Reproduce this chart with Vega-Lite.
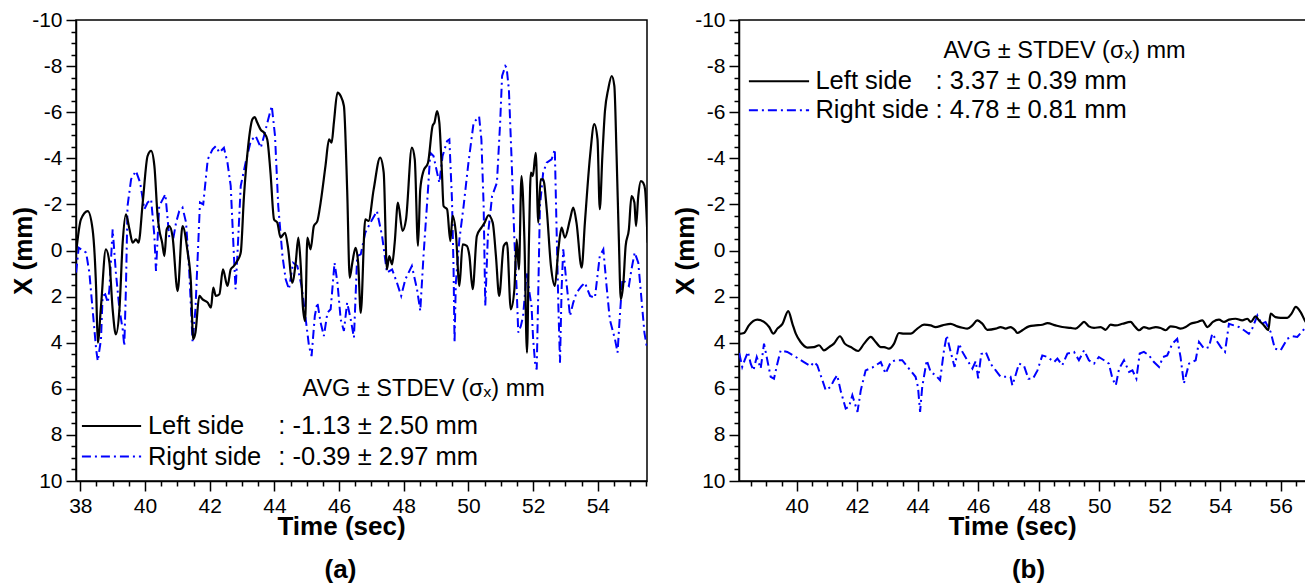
{
  "$schema": "https://vega.github.io/schema/vega-lite/v6.json",
  "padding": {"left": 9, "top": 8, "right": 0, "bottom": 0},
  "background": "white",
  "bounds": "flush",
  "spacing": 92,
  "config": {
    "view": {"stroke": "black", "strokeWidth": 1.5},
    "font": "Liberation Sans",
    "axis": {
      "labelFont": "Liberation Sans", "labelFontSize": 21, "labelColor": "black",
      "titleFont": "Liberation Sans", "titleFontSize": 26, "titleFontWeight": "bold", "titleColor": "black",
      "domainColor": "black", "domainWidth": 1.5, "tickColor": "black", "tickWidth": 1.5,
      "grid": false, "labelPadding": 4, "labelOverlap": false, "labelFlush": false
    },
    "text": {"font": "Liberation Sans", "color": "black", "align": "left", "baseline": "middle"}
  },
  "datasets": {
    "aLeft": [
      {"t":37.87,"v":0.1},{"t":38.02,"v":-1.35},{"t":38.23,"v":-1.71},{"t":38.38,"v":-0.92},{"t":38.49,"v":1.68},{"t":38.54,"v":4.0},{"t":38.64,"v":2.41},{"t":38.79,"v":-0.05},{"t":38.9,"v":0.53},{"t":39.0,"v":2.55},{"t":39.1,"v":3.64},{"t":39.21,"v":2.55},{"t":39.31,"v":-0.34},{"t":39.41,"v":-1.57},{"t":39.52,"v":-0.92},{"t":39.62,"v":-0.34},{"t":39.72,"v":-0.48},{"t":39.8,"v":-0.34},{"t":39.93,"v":-2.08},{"t":40.08,"v":-4.1},{"t":40.19,"v":-4.32},{"t":40.29,"v":-3.67},{"t":40.39,"v":-1.5},{"t":40.44,"v":-0.92},{"t":40.53,"v":-0.34},{"t":40.6,"v":0.24},{"t":40.67,"v":-0.92},{"t":40.75,"v":-1.06},{"t":40.85,"v":-0.63},{"t":41.01,"v":1.76},{"t":41.16,"v":-1.06},{"t":41.32,"v":0.09},{"t":41.42,"v":1.4},{"t":41.49,"v":3.85},{"t":41.56,"v":3.56},{"t":41.68,"v":1.97},{"t":41.78,"v":2.12},{"t":41.94,"v":2.26},{"t":42.04,"v":2.48},{"t":42.11,"v":1.61},{"t":42.19,"v":1.97},{"t":42.3,"v":1.9},{"t":42.41,"v":0.82},{"t":42.55,"v":1.54},{"t":42.65,"v":0.82},{"t":42.75,"v":0.67},{"t":42.85,"v":0.46},{"t":42.96,"v":0.09},{"t":43.06,"v":-2.36},{"t":43.19,"v":-4.53},{"t":43.32,"v":-5.69},{"t":43.39,"v":-5.79},{"t":43.47,"v":-5.55},{"t":43.58,"v":-5.23},{"t":43.68,"v":-5.11},{"t":43.78,"v":-4.82},{"t":43.88,"v":-3.38},{"t":43.99,"v":-1.35},{"t":44.09,"v":-1.21},{"t":44.19,"v":-0.56},{"t":44.33,"v":-0.77},{"t":44.43,"v":-0.05},{"t":44.55,"v":1.4},{"t":44.66,"v":0.53},{"t":44.74,"v":-0.56},{"t":44.81,"v":0.53},{"t":44.88,"v":2.41},{"t":44.95,"v":3.06},{"t":45.02,"v":-0.56},{"t":45.12,"v":-0.05},{"t":45.22,"v":-1.06},{"t":45.33,"v":-1.28},{"t":45.43,"v":-2.08},{"t":45.58,"v":-3.67},{"t":45.69,"v":-4.82},{"t":45.77,"v":-4.68},{"t":45.84,"v":-5.55},{"t":45.95,"v":-6.85},{"t":46.05,"v":-6.7},{"t":46.15,"v":-6.27},{"t":46.25,"v":-2.65},{"t":46.33,"v":1.18},{"t":46.41,"v":0.53},{"t":46.51,"v":-0.12},{"t":46.59,"v":0.53},{"t":46.67,"v":2.7},{"t":46.81,"v":-1.35},{"t":46.91,"v":-1.28},{"t":47.07,"v":-2.65},{"t":47.27,"v":-4.03},{"t":47.38,"v":-3.38},{"t":47.48,"v":0.82},{"t":47.55,"v":0.24},{"t":47.64,"v":0.6},{"t":47.72,"v":-0.34},{"t":47.82,"v":-2.08},{"t":47.96,"v":-0.85},{"t":48.07,"v":-1.35},{"t":48.25,"v":-4.46},{"t":48.34,"v":-3.95},{"t":48.44,"v":-0.2},{"t":48.51,"v":-2.65},{"t":48.61,"v":-3.45},{"t":48.75,"v":-3.81},{"t":48.89,"v":-5.4},{"t":48.95,"v":-5.55},{"t":49.03,"v":-6.05},{"t":49.1,"v":-5.55},{"t":49.18,"v":-3.38},{"t":49.23,"v":-1.93},{"t":49.34,"v":-1.79},{"t":49.44,"v":-0.41},{"t":49.51,"v":-1.5},{"t":49.61,"v":-0.77},{"t":49.72,"v":1.54},{"t":49.82,"v":-0.27},{"t":49.95,"v":-0.2},{"t":50.03,"v":0.24},{"t":50.13,"v":1.68},{"t":50.26,"v":-0.63},{"t":50.4,"v":-0.99},{"t":50.5,"v":-1.21},{"t":50.62,"v":-1.53},{"t":50.75,"v":-1.21},{"t":50.85,"v":0.24},{"t":50.95,"v":1.97},{"t":51.09,"v":-0.2},{"t":51.19,"v":-0.34},{"t":51.31,"v":2.55},{"t":51.42,"v":1.68},{"t":51.49,"v":-0.48},{"t":51.56,"v":0.82},{"t":51.64,"v":-3.23},{"t":51.73,"v":-0.48},{"t":51.81,"v":4.43},{"t":51.87,"v":-0.34},{"t":51.93,"v":-3.38},{"t":51.99,"v":-3.23},{"t":52.08,"v":-4.24},{"t":52.16,"v":-1.21},{"t":52.23,"v":-3.09},{"t":52.31,"v":-3.09},{"t":52.42,"v":-1.79},{"t":52.55,"v":0.67},{"t":52.67,"v":1.54},{"t":52.78,"v":-0.05},{"t":52.88,"v":-0.99},{"t":52.98,"v":-0.56},{"t":53.14,"v":-1.35},{"t":53.24,"v":-1.86},{"t":53.34,"v":-1.21},{"t":53.5,"v":0.74},{"t":53.6,"v":-1.21},{"t":53.76,"v":-4.1},{"t":53.89,"v":-5.48},{"t":53.99,"v":-4.82},{"t":54.06,"v":-1.79},{"t":54.14,"v":-4.1},{"t":54.22,"v":-6.05},{"t":54.32,"v":-6.99},{"t":54.43,"v":-7.57},{"t":54.51,"v":-7.14},{"t":54.58,"v":-4.1},{"t":54.65,"v":-0.48},{"t":54.71,"v":2.12},{"t":54.79,"v":1.4},{"t":54.86,"v":-0.2},{"t":54.96,"v":-0.92},{"t":55.04,"v":-2.36},{"t":55.13,"v":-2.08},{"t":55.18,"v":-1.06},{"t":55.25,"v":-2.36},{"t":55.33,"v":-3.01},{"t":55.4,"v":-2.94},{"t":55.46,"v":-2.65},{"t":55.54,"v":-0.34}
    ],
    "aRight": [
      {"t":37.87,"v":0.96},{"t":37.95,"v":-0.12},{"t":38.18,"v":0.09},{"t":38.28,"v":0.96},{"t":38.38,"v":2.55},{"t":38.49,"v":4.29},{"t":38.54,"v":4.79},{"t":38.64,"v":3.85},{"t":38.69,"v":1.97},{"t":38.77,"v":1.9},{"t":38.85,"v":2.26},{"t":38.9,"v":1.68},{"t":39.0,"v":-0.92},{"t":39.1,"v":0.96},{"t":39.21,"v":2.55},{"t":39.31,"v":3.42},{"t":39.36,"v":4.14},{"t":39.41,"v":1.68},{"t":39.46,"v":-1.93},{"t":39.57,"v":-3.09},{"t":39.72,"v":-3.45},{"t":39.85,"v":-2.94},{"t":39.98,"v":-1.79},{"t":40.08,"v":-2.08},{"t":40.19,"v":-2.22},{"t":40.29,"v":-0.63},{"t":40.34,"v":0.89},{"t":40.44,"v":-1.93},{"t":40.63,"v":-2.44},{"t":40.7,"v":-1.35},{"t":40.75,"v":-0.56},{"t":40.88,"v":-0.56},{"t":40.96,"v":-1.21},{"t":41.06,"v":-1.71},{"t":41.16,"v":-1.86},{"t":41.27,"v":-1.21},{"t":41.37,"v":0.96},{"t":41.47,"v":3.93},{"t":41.56,"v":2.55},{"t":41.63,"v":0.24},{"t":41.7,"v":-2.08},{"t":41.8,"v":-2.0},{"t":41.94,"v":-3.95},{"t":42.09,"v":-4.39},{"t":42.19,"v":-4.53},{"t":42.3,"v":-4.25},{"t":42.44,"v":-4.46},{"t":42.55,"v":-3.81},{"t":42.65,"v":-2.8},{"t":42.75,"v":0.24},{"t":42.8,"v":1.68},{"t":42.85,"v":0.38},{"t":42.96,"v":-2.8},{"t":43.11,"v":-3.81},{"t":43.27,"v":-4.75},{"t":43.42,"v":-4.97},{"t":43.58,"v":-4.46},{"t":43.68,"v":-4.97},{"t":43.81,"v":-5.69},{"t":43.92,"v":-6.27},{"t":44.02,"v":-4.97},{"t":44.12,"v":-1.93},{"t":44.25,"v":0.24},{"t":44.35,"v":1.25},{"t":44.45,"v":1.68},{"t":44.58,"v":0.53},{"t":44.71,"v":0.67},{"t":44.84,"v":1.54},{"t":44.97,"v":2.99},{"t":45.07,"v":4.14},{"t":45.15,"v":4.58},{"t":45.25,"v":2.84},{"t":45.33,"v":2.26},{"t":45.43,"v":3.13},{"t":45.53,"v":3.71},{"t":45.64,"v":2.7},{"t":45.74,"v":2.55},{"t":45.86,"v":0.53},{"t":45.95,"v":1.4},{"t":46.05,"v":2.99},{"t":46.15,"v":3.49},{"t":46.25,"v":2.26},{"t":46.36,"v":2.99},{"t":46.46,"v":3.78},{"t":46.56,"v":0.24},{"t":46.67,"v":0.17},{"t":46.81,"v":-0.77},{"t":46.97,"v":-1.21},{"t":47.17,"v":-1.71},{"t":47.33,"v":-0.63},{"t":47.48,"v":0.96},{"t":47.64,"v":0.82},{"t":47.79,"v":1.4},{"t":47.92,"v":1.97},{"t":48.05,"v":1.25},{"t":48.25,"v":0.67},{"t":48.41,"v":1.68},{"t":48.51,"v":2.62},{"t":48.61,"v":0.24},{"t":48.75,"v":-2.65},{"t":48.82,"v":-4.24},{"t":48.92,"v":-4.1},{"t":49.03,"v":-3.38},{"t":49.1,"v":-2.94},{"t":49.2,"v":-4.1},{"t":49.34,"v":-4.75},{"t":49.41,"v":-4.82},{"t":49.49,"v":-2.22},{"t":49.54,"v":0.82},{"t":49.57,"v":4.0},{"t":49.61,"v":1.4},{"t":49.72,"v":-0.48},{"t":49.85,"v":-1.93},{"t":50.0,"v":-3.81},{"t":50.16,"v":-5.55},{"t":50.33,"v":-5.81},{"t":50.4,"v":-4.82},{"t":50.47,"v":-1.93},{"t":50.52,"v":2.41},{"t":50.6,"v":-0.63},{"t":50.73,"v":-2.36},{"t":50.88,"v":-2.94},{"t":50.98,"v":-5.55},{"t":51.04,"v":-7.57},{"t":51.14,"v":-8.0},{"t":51.18,"v":-7.93},{"t":51.25,"v":-6.99},{"t":51.33,"v":-4.1},{"t":51.42,"v":-0.48},{"t":51.49,"v":1.68},{"t":51.54,"v":3.56},{"t":51.62,"v":3.27},{"t":51.69,"v":2.84},{"t":51.8,"v":0.96},{"t":51.87,"v":1.68},{"t":51.95,"v":2.41},{"t":52.0,"v":3.85},{"t":52.06,"v":4.87},{"t":52.11,"v":5.16},{"t":52.16,"v":1.68},{"t":52.21,"v":-1.93},{"t":52.31,"v":-3.38},{"t":52.42,"v":-3.81},{"t":52.57,"v":-3.95},{"t":52.67,"v":-4.39},{"t":52.72,"v":-1.21},{"t":52.78,"v":2.41},{"t":52.83,"v":4.87},{"t":52.88,"v":1.68},{"t":52.93,"v":-0.05},{"t":53.03,"v":1.4},{"t":53.14,"v":2.84},{"t":53.24,"v":2.26},{"t":53.34,"v":1.83},{"t":53.5,"v":1.54},{"t":53.6,"v":1.4},{"t":53.76,"v":1.97},{"t":53.91,"v":2.05},{"t":54.06,"v":0.24},{"t":54.17,"v":-0.05},{"t":54.27,"v":1.54},{"t":54.37,"v":2.99},{"t":54.53,"v":3.85},{"t":54.61,"v":4.43},{"t":54.68,"v":2.84},{"t":54.76,"v":1.25},{"t":54.86,"v":1.4},{"t":54.96,"v":1.54},{"t":55.04,"v":0.82},{"t":55.14,"v":0.09},{"t":55.25,"v":0.53},{"t":55.35,"v":2.12},{"t":55.44,"v":3.56},{"t":55.51,"v":4.14}
    ],
    "bLeft": [
      {"t":38.1,"v":3.62},{"t":38.26,"v":3.58},{"t":38.42,"v":3.25},{"t":38.7,"v":3.0},{"t":38.92,"v":3.1},{"t":39.09,"v":3.32},{"t":39.23,"v":3.61},{"t":39.36,"v":3.39},{"t":39.53,"v":3.18},{"t":39.72,"v":2.63},{"t":39.86,"v":3.18},{"t":39.97,"v":3.61},{"t":40.13,"v":3.97},{"t":40.35,"v":4.21},{"t":40.57,"v":4.19},{"t":40.74,"v":4.11},{"t":40.9,"v":4.33},{"t":41.07,"v":4.19},{"t":41.23,"v":4.04},{"t":41.43,"v":3.72},{"t":41.59,"v":4.04},{"t":41.79,"v":4.19},{"t":42.03,"v":4.36},{"t":42.23,"v":4.04},{"t":42.45,"v":3.75},{"t":42.61,"v":3.97},{"t":42.78,"v":4.19},{"t":42.89,"v":4.19},{"t":43.05,"v":4.26},{"t":43.22,"v":4.04},{"t":43.38,"v":3.58},{"t":43.55,"v":3.61},{"t":43.77,"v":3.61},{"t":43.99,"v":3.39},{"t":44.21,"v":3.22},{"t":44.43,"v":3.25},{"t":44.59,"v":3.32},{"t":44.82,"v":3.25},{"t":45.09,"v":3.18},{"t":45.31,"v":3.29},{"t":45.48,"v":3.35},{"t":45.64,"v":3.39},{"t":45.81,"v":3.25},{"t":45.97,"v":3.03},{"t":46.14,"v":3.18},{"t":46.3,"v":3.44},{"t":46.58,"v":3.39},{"t":46.74,"v":3.32},{"t":46.91,"v":3.39},{"t":47.07,"v":3.32},{"t":47.22,"v":3.46},{"t":47.29,"v":3.58},{"t":47.46,"v":3.46},{"t":47.68,"v":3.29},{"t":47.9,"v":3.25},{"t":48.12,"v":3.22},{"t":48.29,"v":3.15},{"t":48.56,"v":3.25},{"t":48.78,"v":3.32},{"t":49.06,"v":3.36},{"t":49.22,"v":3.39},{"t":49.39,"v":3.22},{"t":49.5,"v":3.1},{"t":49.66,"v":3.29},{"t":49.83,"v":3.36},{"t":50.05,"v":3.32},{"t":50.21,"v":3.44},{"t":50.38,"v":3.22},{"t":50.55,"v":3.25},{"t":50.77,"v":3.18},{"t":51.04,"v":3.1},{"t":51.15,"v":3.25},{"t":51.32,"v":3.46},{"t":51.48,"v":3.32},{"t":51.65,"v":3.39},{"t":51.87,"v":3.32},{"t":52.03,"v":3.36},{"t":52.2,"v":3.46},{"t":52.36,"v":3.29},{"t":52.53,"v":3.32},{"t":52.69,"v":3.39},{"t":52.86,"v":3.32},{"t":53.02,"v":3.18},{"t":53.25,"v":3.1},{"t":53.41,"v":3.03},{"t":53.58,"v":3.32},{"t":53.76,"v":3.1},{"t":53.96,"v":3.0},{"t":54.13,"v":3.1},{"t":54.29,"v":3.0},{"t":54.51,"v":2.96},{"t":54.73,"v":3.03},{"t":54.9,"v":2.96},{"t":55.01,"v":3.1},{"t":55.17,"v":2.86},{"t":55.28,"v":3.03},{"t":55.45,"v":3.25},{"t":55.59,"v":3.46},{"t":55.67,"v":2.74},{"t":55.83,"v":2.89},{"t":56.0,"v":2.92},{"t":56.22,"v":2.92},{"t":56.36,"v":2.74},{"t":56.5,"v":2.45},{"t":56.66,"v":2.67},{"t":56.83,"v":3.1},{"t":56.97,"v":3.2}
    ],
    "bRight": [
      {"t":38.1,"v":4.45},{"t":38.2,"v":5.05},{"t":38.28,"v":4.76},{"t":38.39,"v":4.4},{"t":38.48,"v":4.91},{"t":38.57,"v":5.2},{"t":38.68,"v":4.62},{"t":38.81,"v":5.12},{"t":38.92,"v":4.04},{"t":39.03,"v":4.76},{"t":39.14,"v":5.48},{"t":39.25,"v":5.56},{"t":39.36,"v":4.91},{"t":39.47,"v":4.33},{"t":39.69,"v":4.4},{"t":39.97,"v":4.62},{"t":40.24,"v":4.84},{"t":40.46,"v":5.02},{"t":40.57,"v":4.84},{"t":40.68,"v":4.98},{"t":40.85,"v":5.63},{"t":40.96,"v":6.06},{"t":41.12,"v":5.92},{"t":41.23,"v":5.63},{"t":41.34,"v":5.41},{"t":41.45,"v":6.06},{"t":41.62,"v":6.86},{"t":41.73,"v":6.78},{"t":41.84,"v":6.28},{"t":42.01,"v":7.0},{"t":42.12,"v":6.06},{"t":42.28,"v":5.2},{"t":42.5,"v":5.08},{"t":42.78,"v":4.84},{"t":42.94,"v":5.34},{"t":43.11,"v":4.84},{"t":43.27,"v":4.76},{"t":43.49,"v":4.76},{"t":43.71,"v":5.12},{"t":43.93,"v":5.48},{"t":44.01,"v":5.92},{"t":44.08,"v":7.0},{"t":44.15,"v":5.92},{"t":44.3,"v":4.76},{"t":44.43,"v":5.27},{"t":44.59,"v":5.41},{"t":44.74,"v":5.63},{"t":44.87,"v":4.33},{"t":44.96,"v":3.68},{"t":45.09,"v":4.4},{"t":45.22,"v":5.05},{"t":45.37,"v":4.04},{"t":45.48,"v":4.4},{"t":45.64,"v":4.76},{"t":45.81,"v":5.12},{"t":45.92,"v":4.8},{"t":46.0,"v":5.55},{"t":46.1,"v":4.5},{"t":46.25,"v":4.4},{"t":46.41,"v":4.91},{"t":46.58,"v":5.2},{"t":46.74,"v":5.48},{"t":46.91,"v":5.48},{"t":47.07,"v":5.48},{"t":47.13,"v":5.85},{"t":47.22,"v":5.48},{"t":47.35,"v":4.91},{"t":47.51,"v":4.98},{"t":47.66,"v":5.56},{"t":47.81,"v":5.56},{"t":47.96,"v":5.2},{"t":48.12,"v":4.55},{"t":48.29,"v":4.62},{"t":48.51,"v":4.84},{"t":48.62,"v":4.69},{"t":48.78,"v":4.98},{"t":48.95,"v":4.47},{"t":49.17,"v":4.4},{"t":49.33,"v":4.76},{"t":49.5,"v":4.33},{"t":49.66,"v":4.76},{"t":49.83,"v":4.91},{"t":49.99,"v":4.62},{"t":50.16,"v":4.76},{"t":50.32,"v":4.91},{"t":50.44,"v":5.56},{"t":50.55,"v":5.85},{"t":50.66,"v":5.12},{"t":50.82,"v":4.76},{"t":50.99,"v":5.27},{"t":51.1,"v":5.2},{"t":51.23,"v":5.56},{"t":51.34,"v":4.47},{"t":51.48,"v":4.4},{"t":51.65,"v":4.55},{"t":51.81,"v":4.84},{"t":51.98,"v":5.05},{"t":52.11,"v":4.62},{"t":52.25,"v":4.55},{"t":52.42,"v":4.04},{"t":52.58,"v":3.83},{"t":52.69,"v":4.62},{"t":52.8,"v":5.77},{"t":52.97,"v":4.91},{"t":53.19,"v":4.76},{"t":53.3,"v":3.97},{"t":53.47,"v":4.26},{"t":53.63,"v":4.19},{"t":53.74,"v":3.61},{"t":53.91,"v":3.97},{"t":54.02,"v":4.19},{"t":54.16,"v":4.4},{"t":54.29,"v":3.18},{"t":54.46,"v":3.25},{"t":54.62,"v":3.32},{"t":54.79,"v":3.46},{"t":54.95,"v":3.61},{"t":55.06,"v":3.39},{"t":55.23,"v":2.82},{"t":55.37,"v":3.18},{"t":55.5,"v":3.1},{"t":55.67,"v":3.54},{"t":55.81,"v":4.26},{"t":56.0,"v":4.33},{"t":56.22,"v":3.83},{"t":56.39,"v":3.72},{"t":56.55,"v":3.75},{"t":56.69,"v":3.54},{"t":56.83,"v":3.32},{"t":56.97,"v":3.2}
    ],
    "one": [{"k": 1}]
  },
  "hconcat": [
    {
      "width": 571, "height": 461,
      "title": {"text": "(a)", "orient": "bottom", "anchor": "middle", "fontSize": 26, "fontWeight": "bold", "font": "Liberation Sans", "color": "black", "dx": -21, "offset": 18},
      "encoding": {
        "x": {"type": "quantitative", "scale": {"domain": [37.867, 55.52], "nice": false, "zero": false},
          "axis": {"title": "Time (sec)", "labelOverlap": false, "labelFlush": false, "labelFontSize": 21, "labelFont": "Liberation Sans", "values": [38,38.5,39,39.5,40,40.5,41,41.5,42,42.5,43,43.5,44,44.5,45,45.5,46,46.5,47,47.5,48,48.5,49,49.5,50,50.5,51,51.5,52,52.5,53,53.5,54,54.5,55,55.5],
            "labelExpr": "datum.value % 2 === 0 ? '' + datum.value : ''",
            "tickSize": {"condition": {"test": "datum.value % 2 === 0", "value": 10}, "value": 5},
            "titleX": 265, "titleY": 53, "titleBaseline": "alphabetic", "titleAlign": "center", "titleAnchor": null}},
        "y": {"type": "quantitative", "scale": {"domain": [-10, 10], "reverse": true, "nice": false, "zero": false},
          "axis": {"title": "X (mm)", "labelOverlap": false, "labelFontSize": 21, "labelFont": "Liberation Sans", "values": [-10,-9.5,-9,-8.5,-8,-7.5,-7,-6.5,-6,-5.5,-5,-4.5,-4,-3.5,-3,-2.5,-2,-1.5,-1,-0.5,0,0.5,1,1.5,2,2.5,3,3.5,4,4.5,5,5.5,6,6.5,7,7.5,8,8.5,9,9.5,10],
            "labelExpr": "datum.value % 2 === 0 ? '' + datum.value : ''",
            "tickSize": {"condition": {"test": "datum.value % 2 === 0", "value": 10}, "value": 5},
            "titleX": -53, "titleY": 230.5, "titleAngle": -90, "titleBaseline": "middle", "titleAlign": "center", "titleAnchor": null}}
      },
      "layer": [
        {"data": {"name": "aRight"}, "mark": {"type": "line", "color": "#0000ff", "strokeWidth": 2, "strokeDash": [9, 4, 2, 4], "clip": true},
          "encoding": {"x": {"field": "t"}, "y": {"field": "v"}}},
        {"data": {"name": "aLeft"}, "mark": {"type": "line", "color": "black", "strokeWidth": 2.2, "interpolate": "monotone", "clip": true},
          "encoding": {"x": {"field": "t"}, "y": {"field": "v"}}},
        {"data": {"name": "one"}, "mark": {"type": "text", "fontSize": 23.5}, "encoding": {"x": {"datum": 44.87}, "y": {"datum": 5.99}, "text": {"value": "AVG ± STDEV (σₓ) mm"}}},
        {"data": {"name": "one"}, "mark": {"type": "rule", "color": "black", "strokeWidth": 2}, "encoding": {"x": {"datum": 38.05}, "x2": {"datum": 39.88}, "y": {"datum": 7.61}}},
        {"data": {"name": "one"}, "mark": {"type": "rule", "color": "#0000ff", "strokeWidth": 2, "strokeDash": [9, 4, 2, 4]}, "encoding": {"x": {"datum": 38.05}, "x2": {"datum": 39.88}, "y": {"datum": 8.94}}},
        {"data": {"name": "one"}, "mark": {"type": "text", "fontSize": 25.5}, "encoding": {"x": {"datum": 40.09}, "y": {"datum": 7.61}, "text": {"value": "Left side"}}},
        {"data": {"name": "one"}, "mark": {"type": "text", "fontSize": 25.5}, "encoding": {"x": {"datum": 40.09}, "y": {"datum": 8.94}, "text": {"value": "Right side"}}},
        {"data": {"name": "one"}, "mark": {"type": "text", "fontSize": 25.5}, "encoding": {"x": {"datum": 44.12}, "y": {"datum": 7.61}, "text": {"value": ": -1.13 ± 2.50 mm"}}},
        {"data": {"name": "one"}, "mark": {"type": "text", "fontSize": 25.5}, "encoding": {"x": {"datum": 44.12}, "y": {"datum": 8.94}, "text": {"value": ": -0.39 ± 2.97 mm"}}}
      ]
    },
    {
      "width": 571, "height": 461,
      "title": {"text": "(b)", "orient": "bottom", "anchor": "middle", "fontSize": 26, "fontWeight": "bold", "font": "Liberation Sans", "color": "black", "dx": 4, "offset": 18},
      "encoding": {
        "x": {"type": "quantitative", "scale": {"domain": [38.093, 56.97], "nice": false, "zero": false},
          "axis": {"title": "Time (sec)", "labelOverlap": false, "labelFlush": false, "labelFontSize": 21, "labelFont": "Liberation Sans", "values": [38.5,39,39.5,40,40.5,41,41.5,42,42.5,43,43.5,44,44.5,45,45.5,46,46.5,47,47.5,48,48.5,49,49.5,50,50.5,51,51.5,52,52.5,53,53.5,54,54.5,55,55.5,56,56.5],
            "labelExpr": "datum.value % 2 === 0 ? '' + datum.value : ''",
            "tickSize": {"condition": {"test": "datum.value % 2 === 0", "value": 10}, "value": 5},
            "titleX": 273, "titleY": 53, "titleBaseline": "alphabetic", "titleAlign": "center", "titleAnchor": null}},
        "y": {"type": "quantitative", "scale": {"domain": [-10, 10], "reverse": true, "nice": false, "zero": false},
          "axis": {"title": "X (mm)", "labelOverlap": false, "labelFontSize": 21, "labelFont": "Liberation Sans", "values": [-10,-9.5,-9,-8.5,-8,-7.5,-7,-6.5,-6,-5.5,-5,-4.5,-4,-3.5,-3,-2.5,-2,-1.5,-1,-0.5,0,0.5,1,1.5,2,2.5,3,3.5,4,4.5,5,5.5,6,6.5,7,7.5,8,8.5,9,9.5,10],
            "labelExpr": "datum.value % 2 === 0 ? '' + datum.value : ''",
            "tickSize": {"condition": {"test": "datum.value % 2 === 0", "value": 10}, "value": 5},
            "titleX": -54, "titleY": 230.5, "titleAngle": -90, "titleBaseline": "middle", "titleAlign": "center", "titleAnchor": null}}
      },
      "layer": [
        {"data": {"name": "bRight"}, "mark": {"type": "line", "color": "#0000ff", "strokeWidth": 2, "strokeDash": [9, 4, 2, 4], "clip": true},
          "encoding": {"x": {"field": "t"}, "y": {"field": "v"}}},
        {"data": {"name": "bLeft"}, "mark": {"type": "line", "color": "black", "strokeWidth": 2.2, "interpolate": "monotone", "clip": true},
          "encoding": {"x": {"field": "t"}, "y": {"field": "v"}}},
        {"data": {"name": "one"}, "mark": {"type": "text", "fontSize": 23.5}, "encoding": {"x": {"datum": 44.85}, "y": {"datum": -8.67}, "text": {"value": "AVG ± STDEV (σₓ) mm"}}},
        {"data": {"name": "one"}, "mark": {"type": "rule", "color": "black", "strokeWidth": 2}, "encoding": {"x": {"datum": 38.42}, "x2": {"datum": 40.41}, "y": {"datum": -7.34}}},
        {"data": {"name": "one"}, "mark": {"type": "rule", "color": "#0000ff", "strokeWidth": 2, "strokeDash": [9, 4, 2, 4]}, "encoding": {"x": {"datum": 38.42}, "x2": {"datum": 40.41}, "y": {"datum": -6.08}}},
        {"data": {"name": "one"}, "mark": {"type": "text", "fontSize": 25.5}, "encoding": {"x": {"datum": 40.62}, "y": {"datum": -7.34}, "text": {"value": "Left side"}}},
        {"data": {"name": "one"}, "mark": {"type": "text", "fontSize": 25.5}, "encoding": {"x": {"datum": 40.62}, "y": {"datum": -6.08}, "text": {"value": "Right side"}}},
        {"data": {"name": "one"}, "mark": {"type": "text", "fontSize": 25.5}, "encoding": {"x": {"datum": 44.59}, "y": {"datum": -7.34}, "text": {"value": ": 3.37 ± 0.39 mm"}}},
        {"data": {"name": "one"}, "mark": {"type": "text", "fontSize": 25.5}, "encoding": {"x": {"datum": 44.59}, "y": {"datum": -6.08}, "text": {"value": ": 4.78 ± 0.81 mm"}}}
      ]
    }
  ]
}
